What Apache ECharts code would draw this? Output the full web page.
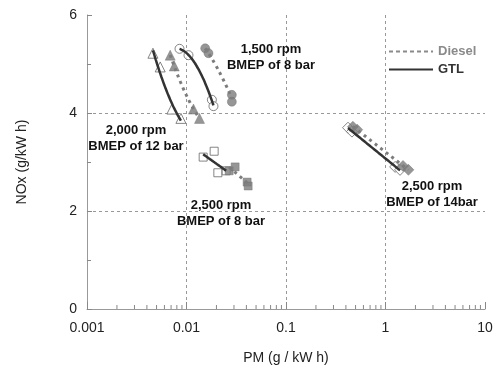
<!DOCTYPE html>
<html>
<head>
<meta charset="utf-8">
<script src="https://cdn.jsdelivr.net/npm/echarts@6/dist/echarts.min.js"></script>
<style>
  html, body { margin: 0; padding: 0; background: #fff; }
  #chart { width: 496px; height: 378px; }
</style>
</head>
<body>
<div id="chart"></div>
<script>
// PM (g/kW h) and NOx (g/kW h), one pair of arrays per operating point
const pm1500Diesel = [0.01541, 0.01663, 0.02856, 0.02856];
const nox1500Diesel = [5.32, 5.22, 4.37, 4.23];
const pm1500Gtl = [0.00851, 0.01047, 0.01799, 0.01866];
const nox1500Gtl = [5.31, 5.18, 4.27, 4.14];

const pm2000Diesel = [0.00686, 0.00753, 0.01175, 0.01351];
const nox2000Diesel = [5.18, 4.96, 4.08, 3.89];
const pm2000Gtl = [0.0046, 0.00544, 0.00713, 0.00879];
const nox2000Gtl = [5.22, 4.94, 4.08, 3.89];

const pm2500lDiesel = [0.02684, 0.03083, 0.04068, 0.04166];
const nox2500lDiesel = [2.82, 2.90, 2.59, 2.51];
const pm2500lGtl = [0.01471, 0.01897, 0.02066, 0.02504];
const nox2500lGtl = [3.10, 3.22, 2.78, 2.82];

const pm2500hDiesel = [0.47, 0.52, 1.50, 1.70];
const nox2500hDiesel = [3.72, 3.66, 2.92, 2.84];
const pm2500hGtl = [0.42, 0.46, 1.25, 1.40];
const nox2500hGtl = [3.70, 3.62, 2.90, 2.84];

const xTicks = [0.001, 0.01, 0.1, 1, 10];
const yTicks = [0, 2, 4, 6];

const notes = [
    { text: '1,500 rpm\nBMEP of 8 bar', x: 271, y: 57 },
    { text: '2,000 rpm\nBMEP of 12 bar', x: 136, y: 138 },
    { text: '2,500 rpm\nBMEP of 8 bar', x: 221, y: 213 },
    { text: '2,500 rpm\nBMEP of 14bar', x: 432, y: 194 }
];

const DIESEL = '#7c7c7c';
const GTL = '#333333';

// least squares fit of NOx against log10(PM)
function fitCurve(xs, ys, deg) {
    const t = xs.map(v => Math.log10(v));
    const n = deg + 1;
    const A = [];
    for (let r = 0; r < n; r++) {
        A.push(new Array(n + 1).fill(0));
    }
    for (let i = 0; i < t.length; i++) {
        for (let r = 0; r < n; r++) {
            for (let c = 0; c < n; c++) A[r][c] += Math.pow(t[i], r + c);
            A[r][n] += ys[i] * Math.pow(t[i], r);
        }
    }
    for (let k = 0; k < n; k++) {
        for (let r = k + 1; r < n; r++) {
            const f = A[r][k] / A[k][k];
            for (let c = k; c <= n; c++) A[r][c] -= f * A[k][c];
        }
    }
    const b = new Array(n).fill(0);
    for (let r = n - 1; r >= 0; r--) {
        let s = A[r][n];
        for (let c = r + 1; c < n; c++) s -= A[r][c] * b[c];
        b[r] = s / A[r][r];
    }
    const lo = Math.min(...t), hi = Math.max(...t);
    const out = [];
    for (let i = 0; i <= 20; i++) {
        const tt = lo + (hi - lo) * i / 20;
        let y = 0;
        for (let r = 0; r < n; r++) y += b[r] * Math.pow(tt, r);
        out.push([Math.pow(10, tt), y]);
    }
    return out;
}

function pairs(xs, ys) {
    return xs.map((x, i) => [x, ys[i]]);
}

function dieselPoints(xs, ys, symbol, size) {
    return {
        type: 'scatter', data: pairs(xs, ys), symbol: symbol, symbolSize: size,
        itemStyle: { color: DIESEL, borderColor: '#6a6a6a', borderWidth: 0.5 }, z: 3, silent: true
    };
}

function gtlPoints(xs, ys, symbol, size) {
    return {
        type: 'scatter', data: pairs(xs, ys), symbol: symbol, symbolSize: size,
        itemStyle: { color: '#fff', borderColor: '#666', borderWidth: 1 }, z: 2, silent: true
    };
}

function dieselLine(xs, ys, deg) {
    return {
        type: 'line', data: fitCurve(xs, ys, deg), symbol: 'none', smooth: true,
        lineStyle: { color: DIESEL, width: 3, type: [3, 4] }, z: 4, silent: true
    };
}

function gtlLine(xs, ys, deg) {
    return {
        type: 'line', data: fitCurve(xs, ys, deg), symbol: 'none', smooth: true,
        lineStyle: { color: GTL, width: 2.5 }, z: 5, silent: true
    };
}

const minorTicks = [];
for (let i = 0; i < xTicks.length - 1; i++) {
    for (let k = 2; k <= 9; k++) minorTicks.push([xTicks[i] * k, 0]);
}

const chart = echarts.init(document.getElementById('chart'));

const legendBase = {
    left: 383, itemWidth: 44, itemHeight: 14, itemGap: 4,
    itemStyle: { opacity: 0 }
};

const option = {
    animation: false,
    grid: { left: 87, right: 11, top: 15, bottom: 69 },
    legend: [
        Object.assign({}, legendBase, {
            data: ['Diesel'], top: 40,
            textStyle: { color: '#8a8a8a', fontWeight: 'bold', fontSize: 13, fontFamily: 'Liberation Sans' }
        }),
        Object.assign({}, legendBase, {
            data: ['GTL'], top: 58,
            textStyle: { color: GTL, fontWeight: 'bold', fontSize: 13, fontFamily: 'Liberation Sans' }
        })
    ],
    xAxis: {
        type: 'log', logBase: 10, min: xTicks[0], max: xTicks[xTicks.length - 1],
        name: 'PM (g / kW h)', nameLocation: 'middle', nameGap: 42,
        nameTextStyle: { fontSize: 14, color: '#222', fontFamily: 'Liberation Sans' },
        axisLine: { lineStyle: { color: '#999' } },
        axisTick: { inside: true, length: 7, lineStyle: { color: '#888' } },
        axisLabel: {
            fontSize: 14, color: '#222', margin: 12, fontFamily: 'Liberation Sans',
            formatter: v => String(+Number(v).toPrecision(3))
        },
        splitLine: { show: true, showMinLine: false, showMaxLine: false, lineStyle: { color: '#999', type: [3, 3] } }
    },
    yAxis: {
        type: 'value', min: yTicks[0], max: yTicks[yTicks.length - 1], interval: 2,
        name: 'NOx (g/kW h)', nameLocation: 'middle', nameGap: 58,
        nameTextStyle: { fontSize: 14, color: '#222', fontFamily: 'Liberation Sans' },
        axisLine: { show: true, lineStyle: { color: '#999' } },
        axisTick: { show: true, inside: true, length: 5, lineStyle: { color: '#888' } },
        minorTick: { show: true, splitNumber: 2, length: 4, lineStyle: { color: '#888' } },
        axisLabel: { fontSize: 14, color: '#222', margin: 10, fontFamily: 'Liberation Sans' },
        splitLine: { show: true, showMinLine: false, showMaxLine: false, lineStyle: { color: '#999', type: [3, 3] } }
    },
    graphic: notes.map(n => ({
        type: 'text', x: n.x, y: n.y, silent: true, z: 10,
        style: {
            text: n.text, align: 'center', verticalAlign: 'middle', lineHeight: 16,
            fill: '#111', font: 'bold 13px "Liberation Sans", Arial, sans-serif'
        }
    })),
    series: [
        { name: 'Diesel', type: 'line', data: [], symbol: 'none', lineStyle: { color: '#8a8a8a', width: 2, type: [4, 3] }, itemStyle: { color: DIESEL } },
        { name: 'GTL', type: 'line', data: [], symbol: 'none', lineStyle: { color: GTL, width: 2.5 }, itemStyle: { color: GTL } },
        {
            type: 'custom', data: minorTicks, silent: true, clip: false, z: 1,
            renderItem: (params, api) => {
                const p = api.coord([api.value(0), 0]);
                return { type: 'line', shape: { x1: p[0], y1: p[1], x2: p[0], y2: p[1] - 4 }, style: { stroke: '#888', lineWidth: 1 } };
            }
        },
        dieselPoints(pm1500Diesel, nox1500Diesel, 'circle', 9),
        gtlPoints(pm1500Gtl, nox1500Gtl, 'circle', 9),
        dieselLine(pm1500Diesel, nox1500Diesel, 2),
        gtlLine(pm1500Gtl, nox1500Gtl, 2),

        dieselPoints(pm2000Diesel, nox2000Diesel, 'triangle', 10),
        gtlPoints(pm2000Gtl, nox2000Gtl, 'triangle', 10),
        dieselLine(pm2000Diesel, nox2000Diesel, 2),
        gtlLine(pm2000Gtl, nox2000Gtl, 2),

        dieselPoints(pm2500lDiesel, nox2500lDiesel, 'rect', 8),
        gtlPoints(pm2500lGtl, nox2500lGtl, 'rect', 8),
        dieselLine(pm2500lDiesel, nox2500lDiesel, 1),
        gtlLine(pm2500lGtl, nox2500lGtl, 1),

        dieselPoints(pm2500hDiesel, nox2500hDiesel, 'diamond', 11),
        gtlPoints(pm2500hGtl, nox2500hGtl, 'diamond', 11),
        dieselLine(pm2500hDiesel, nox2500hDiesel, 1),
        gtlLine(pm2500hGtl, nox2500hGtl, 1)
    ]
};

chart.setOption(option);
</script>
</body>
</html>
